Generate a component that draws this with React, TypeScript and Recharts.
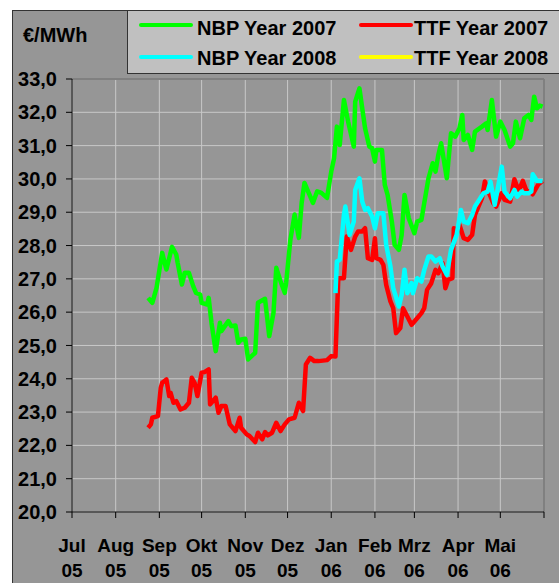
import React from 'react';
import { LineChart, Line, XAxis, YAxis, CartesianGrid, ReferenceLine } from 'recharts';

const FONT = '"Liberation Sans", Arial, Helvetica, sans-serif';

// Month axis (ticks at month starts)
const MONTH_STARTS = [
  '2005-07-01', '2005-08-01', '2005-09-01', '2005-10-01', '2005-11-01', '2005-12-01',
  '2006-01-01', '2006-02-01', '2006-03-01', '2006-04-01', '2006-05-01', '2006-06-01',
];
const MONTH_NAMES = ['Jul', 'Aug', 'Sep', 'Okt', 'Nov', 'Dez', 'Jan', 'Feb', 'Mrz', 'Apr', 'Mai'];
const MONTH_YEARS = ['05', '05', '05', '05', '05', '05', '06', '06', '06', '06', '06'];
const Y_TICKS = [20, 21, 22, 23, 24, 25, 26, 27, 28, 29, 30, 31, 32, 33];

// NBP Year 2007
const nbp07Dates = [
  '2005-08-24', '2005-08-27', '2005-08-30',
  '2005-09-03', '2005-09-06', '2005-09-10', '2005-09-13', '2005-09-14', '2005-09-17', '2005-09-19', '2005-09-22', '2005-09-25', '2005-09-27', '2005-09-30',
  '2005-10-01', '2005-10-05', '2005-10-06', '2005-10-08', '2005-10-11', '2005-10-14', '2005-10-15', '2005-10-20', '2005-10-22', '2005-10-25', '2005-10-27', '2005-10-29',
  '2005-11-01', '2005-11-03', '2005-11-08', '2005-11-10', '2005-11-15', '2005-11-18', '2005-11-21', '2005-11-23', '2005-11-26', '2005-11-29', '2005-11-30',
  '2005-12-03', '2005-12-06', '2005-12-09', '2005-12-11', '2005-12-13', '2005-12-16', '2005-12-17', '2005-12-19', '2005-12-22', '2005-12-25', '2005-12-29',
  '2006-01-01', '2006-01-03', '2006-01-05', '2006-01-07', '2006-01-10', '2006-01-13', '2006-01-17', '2006-01-18', '2006-01-21', '2006-01-23', '2006-01-25', '2006-01-28', '2006-01-30',
  '2006-02-01', '2006-02-02', '2006-02-06', '2006-02-08', '2006-02-10', '2006-02-13', '2006-02-15', '2006-02-18', '2006-02-20', '2006-02-22', '2006-02-25',
  '2006-03-01', '2006-03-03', '2006-03-06', '2006-03-08', '2006-03-11', '2006-03-14', '2006-03-16', '2006-03-18', '2006-03-20', '2006-03-24', '2006-03-27', '2006-03-30',
  '2006-04-02', '2006-04-04', '2006-04-05', '2006-04-08', '2006-04-11', '2006-04-13', '2006-04-18', '2006-04-21', '2006-04-22', '2006-04-25', '2006-04-28',
  '2006-05-01', '2006-05-04', '2006-05-08', '2006-05-10', '2006-05-12', '2006-05-15', '2006-05-18', '2006-05-21', '2006-05-23', '2006-05-25', '2006-05-27', '2006-05-29', '2006-05-31',
];
const nbp07Values = [
  26.43, 26.28, 26.73,
  27.78, 27.28, 27.96, 27.73, 27.48, 26.83, 27.18, 27.18, 26.78, 26.58, 26.53,
  26.28, 26.23, 26.43, 25.68, 24.83, 25.68, 25.43, 25.73, 25.58, 25.6, 25.08, 25.18,
  25.2, 24.58, 24.78, 26.28, 26.4, 25.28, 25.98, 27.33, 26.93, 26.58, 26.88,
  28.18, 28.93, 28.23, 29.28, 29.88, 29.58, 29.48, 29.28, 29.63, 29.58, 29.43,
  30.22, 30.62, 31.57, 31.02, 32.37, 31.72, 30.97, 32.32, 32.72, 32.12, 31.52, 30.97, 30.92,
  30.52, 30.87, 30.87, 29.82, 29.52, 28.72, 28.02, 27.87, 28.32, 29.52, 28.82,
  28.37, 28.72, 28.77, 29.27, 30.02, 30.47, 30.22, 30.72, 31.07, 30.02, 31.37, 31.27,
  31.52, 31.92, 31.17, 31.32, 30.87, 31.42, 31.57, 31.67, 31.47, 32.37, 31.27,
  31.72, 31.47, 30.97, 31.07, 31.72, 31.22, 31.82, 31.92, 31.77, 32.47, 32.12, 32.2, 32.17,
];

// TTF Year 2007
const ttf07Dates = [
  '2005-08-24', '2005-08-26', '2005-08-27', '2005-08-31',
  '2005-09-02', '2005-09-03', '2005-09-06', '2005-09-08', '2005-09-09', '2005-09-11', '2005-09-13', '2005-09-16', '2005-09-19', '2005-09-22', '2005-09-24', '2005-09-26', '2005-09-28',
  '2005-10-01', '2005-10-03', '2005-10-06', '2005-10-07', '2005-10-11', '2005-10-13', '2005-10-15', '2005-10-18', '2005-10-21', '2005-10-25', '2005-10-28', '2005-10-29',
  '2005-11-02', '2005-11-04', '2005-11-08', '2005-11-10', '2005-11-13', '2005-11-15', '2005-11-17', '2005-11-20', '2005-11-23', '2005-11-26', '2005-11-29',
  '2005-12-02', '2005-12-06', '2005-12-09', '2005-12-12', '2005-12-14', '2005-12-17', '2005-12-20', '2005-12-23', '2005-12-29',
  '2006-01-01', '2006-01-04', '2006-01-06', '2006-01-10', '2006-01-12', '2006-01-15', '2006-01-18', '2006-01-20', '2006-01-23', '2006-01-25', '2006-01-27', '2006-01-30',
  '2006-02-01', '2006-02-02', '2006-02-05', '2006-02-07', '2006-02-09', '2006-02-12', '2006-02-14', '2006-02-16', '2006-02-19', '2006-02-21', '2006-02-24', '2006-02-27',
  '2006-03-01', '2006-03-04', '2006-03-06', '2006-03-08', '2006-03-10', '2006-03-13', '2006-03-16', '2006-03-18', '2006-03-21', '2006-03-23', '2006-03-25', '2006-03-28', '2006-03-29', '2006-03-31',
  '2006-04-02', '2006-04-05', '2006-04-08', '2006-04-11', '2006-04-13', '2006-04-15', '2006-04-18', '2006-04-20', '2006-04-23', '2006-04-26', '2006-04-28',
  '2006-05-02', '2006-05-04', '2006-05-08', '2006-05-11', '2006-05-14', '2006-05-17', '2006-05-20', '2006-05-22', '2006-05-24', '2006-05-28', '2006-05-31',
];
const ttf07Values = [
  22.53, 22.63, 22.83, 22.88,
  23.73, 23.88, 23.98, 23.48, 23.58, 23.28, 23.33, 23.08, 23.13, 23.28, 24.03, 23.88, 23.48,
  24.18, 24.2, 24.28, 23.23, 23.43, 22.98, 23.18, 23.18, 22.63, 22.43, 22.83, 22.53,
  22.33, 22.28, 22.1, 22.38, 22.18, 22.4, 22.3, 22.38, 22.68, 22.43, 22.63,
  22.78, 22.83, 23.28, 23.03, 24.43, 24.63, 24.53, 24.53, 24.56,
  24.68, 24.67, 27.02, 27.02, 28.27, 27.87, 28.27, 28.42, 28.42, 28.52, 27.62, 27.57,
  28.22, 27.62, 27.57, 27.42, 26.82, 26.32, 26.12, 25.37, 25.52, 26.12, 25.87, 25.62,
  25.72, 25.87, 25.97, 26.12, 26.67, 26.87, 27.27, 27.17, 27.47, 26.72, 26.97, 27.02, 28.52, 28.47,
  28.62, 28.22, 28.17, 28.32, 28.92, 29.12, 29.42, 29.92, 29.57, 29.27, 29.17,
  29.57, 29.37, 29.32, 29.99, 29.64, 29.94, 29.59, 29.64, 29.54, 29.84, 29.94,
];

// NBP Year 2008
const nbp08Dates = [
  '2006-01-04', '2006-01-05', '2006-01-07', '2006-01-10', '2006-01-11', '2006-01-14', '2006-01-17', '2006-01-18', '2006-01-21', '2006-01-23', '2006-01-25', '2006-01-27', '2006-01-30',
  '2006-02-01', '2006-02-03', '2006-02-07', '2006-02-09', '2006-02-12', '2006-02-14', '2006-02-18', '2006-02-20', '2006-02-22', '2006-02-24', '2006-02-27', '2006-02-28',
  '2006-03-03', '2006-03-06', '2006-03-08', '2006-03-11', '2006-03-13', '2006-03-16', '2006-03-19', '2006-03-21', '2006-03-24', '2006-03-27', '2006-03-31',
  '2006-04-03', '2006-04-05', '2006-04-08', '2006-04-11', '2006-04-13', '2006-04-16', '2006-04-19', '2006-04-22', '2006-04-24', '2006-04-27', '2006-04-29',
  '2006-05-02', '2006-05-04', '2006-05-08', '2006-05-11', '2006-05-13', '2006-05-16', '2006-05-18', '2006-05-21', '2006-05-23', '2006-05-24', '2006-05-27', '2006-05-31',
];
const nbp08Values = [
  26.57, 27.52, 27.57, 28.92, 29.17, 28.32, 28.72, 29.67, 30.02, 29.32, 29.07, 29.12, 28.87,
  28.52, 28.97, 28.97, 28.02, 27.37, 26.72, 26.17, 26.52, 27.27, 26.57, 26.87, 26.57,
  27.02, 26.92, 27.27, 27.67, 27.67, 27.52, 27.62, 27.37, 27.12, 27.87, 28.32,
  29.07, 28.72, 28.67, 28.92, 29.17, 29.37, 29.57, 29.62, 29.92, 29.22, 29.67,
  30.37, 29.62, 29.42, 29.67, 29.47, 29.62, 29.57, 29.57, 29.62, 30.14, 29.94, 29.94,
];

// TTF Year 2008 (no visible line in the picture)
const ttf08Dates: string[] = [];
const ttf08Values: number[] = [];

const SERIES = [
  { name: 'NBP Year 2007', color: '#00ff00', dates: nbp07Dates, values: nbp07Values },
  { name: 'TTF Year 2007', color: '#ff0000', dates: ttf07Dates, values: ttf07Values },
  { name: 'NBP Year 2008', color: '#00ffff', dates: nbp08Dates, values: nbp08Values },
  { name: 'TTF Year 2008', color: '#ffff00', dates: ttf08Dates, values: ttf08Values },
];

const ORIGIN = Date.UTC(2005, 6, 1);
const toDay = (s: string) =>
  (Date.UTC(+s.slice(0, 4), +s.slice(5, 7) - 1, +s.slice(8, 10)) - ORIGIN) / 86400000;
const build = (dates: string[], values: number[]) =>
  dates.map((d, i) => ({ x: toDay(d), y: values[i] }));

const MONTH_TICKS = MONTH_STARTS.map(toDay);

const MonthTick = (props: any) => {
  const { x, y, payload } = props;
  const i = MONTH_TICKS.indexOf(payload.value);
  if (i < 0 || i >= MONTH_NAMES.length) return null;
  return (
    <g>
      <text x={x} y={y + 32} textAnchor="middle" fontFamily={FONT} fontWeight="bold" fontSize={19} fill="#000">
        {MONTH_NAMES[i]}
      </text>
      <text x={x} y={y + 57} textAnchor="middle" fontFamily={FONT} fontWeight="bold" fontSize={19} fill="#000">
        {MONTH_YEARS[i]}
      </text>
    </g>
  );
};

// legend entry: line sample + label (page coordinates)
const LegendItem = ({ name, color, lineX, lineY, textX, textCY }: any) => (
  <>
    <div style={{ position: 'absolute', left: lineX, top: lineY - 2, width: 54, height: 4, background: color, borderRadius: 2 }} />
    <div style={{ position: 'absolute', left: textX, top: textCY - 11.3, fontFamily: FONT, fontWeight: 'bold', fontSize: 20, lineHeight: '23px', color: '#000', whiteSpace: 'nowrap' }}>{name}</div>
  </>
);

export default function App() {
  return (
    <div style={{ position: 'absolute', left: 0, top: 0, width: 559, height: 583, overflow: 'hidden', background: '#fff' }}>
      <div style={{ position: 'absolute', left: 12, top: 10, width: 600, height: 600, background: '#969696', border: '1px solid #333' }} />
      <div style={{ position: 'absolute', left: 23, top: 35 - 11.3, fontFamily: FONT, fontWeight: 'bold', fontSize: 20, lineHeight: '23px', color: '#000' }}>€/MWh</div>
      <div style={{ position: 'absolute', left: 127, top: 10, width: 500, height: 62, background: '#c0c0c0', border: '1px solid #333' }} />
      <LegendItem name={SERIES[0].name} color={SERIES[0].color} lineX={139} lineY={25} textX={197} textCY={28} />
      <LegendItem name={SERIES[1].name} color={SERIES[1].color} lineX={359} lineY={25} textX={414} textCY={28} />
      <LegendItem name={SERIES[2].name} color={SERIES[2].color} lineX={139} lineY={57} textX={197} textCY={58} />
      <LegendItem name={SERIES[3].name} color={SERIES[3].color} lineX={359} lineY={57} textX={414} textCY={58} />
      <div style={{ position: 'absolute', left: 0, top: 0 }}>
        <LineChart width={559} height={583} margin={{ top: 79, right: 15, bottom: 0, left: 0 }}>
          <CartesianGrid stroke="#c8c8c8" strokeWidth={1} />
          <XAxis
            type="number"
            dataKey="x"
            domain={[0, 335]}
            ticks={MONTH_TICKS}
            interval={0}
            height={71}
            tickSize={6}
            tick={<MonthTick />}
            axisLine={{ stroke: '#000', strokeWidth: 1 }}
            tickLine={{ stroke: '#000', strokeWidth: 1 }}
            allowDataOverflow
          />
          <YAxis
            type="number"
            domain={[20, 33]}
            ticks={Y_TICKS}
            interval={0}
            width={72}
            tickSize={6}
            tickMargin={9}
            tickFormatter={(v: number) => v.toFixed(1).replace('.', ',')}
            tick={{ fill: '#000', fontFamily: FONT, fontWeight: 'bold', fontSize: 20 }}
            axisLine={{ stroke: '#000', strokeWidth: 1 }}
            tickLine={{ stroke: '#000', strokeWidth: 1 }}
            allowDataOverflow
          />
          <ReferenceLine y={33} stroke="#808080" strokeWidth={2} />
          <ReferenceLine x={335} stroke="#808080" strokeWidth={2} />
          {[SERIES[3], SERIES[0], SERIES[1], SERIES[2]].map((s) => (
            <Line
              key={s.name}
              data={build(s.dates, s.values)}
              dataKey="y"
              name={s.name}
              type="linear"
              stroke={s.color}
              strokeWidth={4.5}
              dot={false}
              activeDot={false}
              isAnimationActive={false}
              strokeLinejoin="round"
            />
          ))}
        </LineChart>
      </div>
    </div>
  );
}
